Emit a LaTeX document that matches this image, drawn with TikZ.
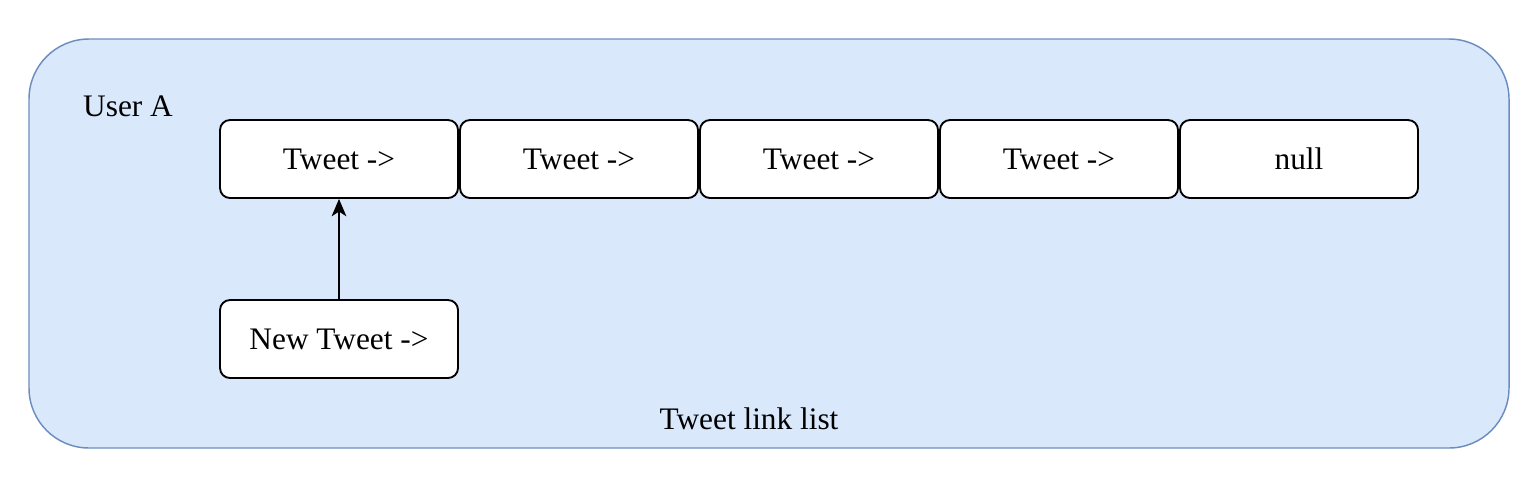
\documentclass[tikz,border=0pt]{standalone}
\usepackage{fontspec}
\setmainfont{Liberation Serif}
\usetikzlibrary{arrows.meta}
\definecolor{outerfill}{HTML}{DAE8FC}
\definecolor{outerdraw}{HTML}{6C8EBF}
\begin{document}
\begin{tikzpicture}[x=0.75pt,y=-0.75pt,
  listbox/.style={draw=black,fill=white,line width=1.4pt,rounded corners=7.5pt,
    minimum width=238*0.75pt,minimum height=78*0.75pt,inner sep=0pt,
    font=\fontsize{23.5}{28}\selectfont},
  plaintext/.style={inner sep=0pt,font=\fontsize{23.5}{28}\selectfont}]
\useasboundingbox (0,0) rectangle (1534,490);
\draw[fill=outerfill,draw=outerdraw,line width=1.1pt,rounded corners=45pt] (29,39) rectangle (1509,448);
\node[plaintext,anchor=base] (user) at (128,116) {User A};
\node[plaintext,anchor=base] (title) at (749,429) {Tweet link list};
\node[listbox] (t1) at (339,159) {Tweet ->};
\node[listbox] (t2) at (579,159) {Tweet ->};
\node[listbox] (t3) at (819,159) {Tweet ->};
\node[listbox] (t4) at (1059,159) {Tweet ->};
\node[listbox] (t5) at (1299,159) {null};
\node[listbox] (new) at (339,339) {New Tweet ->};
\draw[line width=1.4pt,-{Stealth[length=13pt,width=11pt,inset=3.5pt]}] (new.north) -- (t1.south);
\end{tikzpicture}
\end{document}
